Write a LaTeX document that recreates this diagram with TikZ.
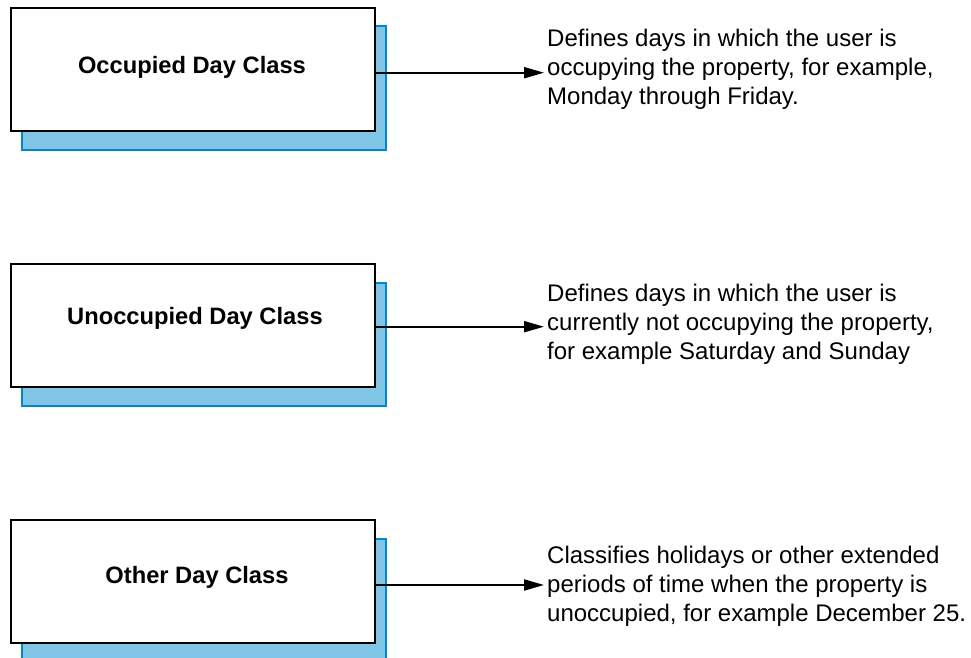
\documentclass[tikz,border=0pt]{standalone}
\usepackage{fontspec}
\setmainfont{Liberation Sans}
\usetikzlibrary{arrows.meta}
\definecolor{shfill}{RGB}{128,196,230}
\definecolor{shdraw}{RGB}{0,136,204}
\begin{document}
\begin{tikzpicture}[x=1pt,y=-1pt,
  shadowbox/.style={draw=shdraw, fill=shfill, line width=2pt, minimum width=364pt, minimum height=123pt, inner sep=0pt},
  classbox/.style={draw=black, fill=white, line width=2pt, minimum width=364pt, minimum height=123pt, inner sep=0pt},
  classlabel/.style={font=\fontsize{23.7}{28}\selectfont\bfseries, inner sep=0pt},
  desc/.style={font=\fontsize{24}{29}\selectfont, align=left, anchor=west, inner xsep=3pt, inner ysep=0pt},
  link/.style={line width=2pt, -{Triangle[length=20pt,width=11pt]}}]
\clip (0,0) rectangle (971,658);
% Occupied
\node[shadowbox] (s1) at (204,88) {};
\node[classbox] (b1) at (193,69.5) {};
\node[classlabel] (l1) at (192,67.2) {Occupied Day Class};
\node[desc] (d1) at (544,69.5) {Defines days in which the user is\\occupying the property, for example,\\Monday through Friday.};
\coordinate (t1) at (544,72.7);
\draw[link] (b1.east |- t1) -- (t1);
% Unoccupied
\node[shadowbox] (s2) at (204,344) {};
\node[classbox] (b2) at (193,325.5) {};
\node[classlabel] (l2) at (195,317.9) {Unoccupied Day Class};
\node[desc] (d2) at (544,324.5) {Defines days in which the user is\\currently not occupying the property,\\for example Saturday and Sunday};
\coordinate (t2) at (544,326.7);
\draw[link] (b2.east |- t2) -- (t2);
% Other
\node[shadowbox] (s3) at (204,600) {};
\node[classbox] (b3) at (193,581.5) {};
\node[classlabel] (l3) at (197,576.9) {Other Day Class};
\node[desc] (d3) at (544,586) {Classifies holidays or other extended\\periods of time when the property is\\unoccupied, for example December 25.};
\coordinate (t3) at (544,585);
\draw[link] (b3.east |- t3) -- (t3);
\end{tikzpicture}
\end{document}
